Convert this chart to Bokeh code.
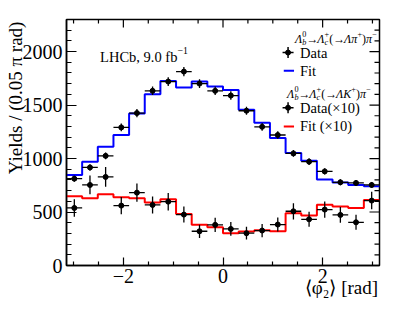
import numpy as np
from bokeh.plotting import figure
from bokeh.models import Label, FixedTicker, SingleIntervalTicker, Range1d
from bokeh.embed import file_html
from bokeh.resources import INLINE

# ---------------- data ----------------
n_bins = 20
phi_edges = list(np.linspace(-np.pi, np.pi, n_bins + 1))
phi_centers = [0.5 * (a + b) for a, b in zip(phi_edges[:-1], phi_edges[1:])]
phi_halfwidth = 0.5 * (phi_edges[1] - phi_edges[0])

pi_fit = [846, 971, 1111, 1220, 1421, 1602, 1725, 1664, 1720, 1673,
          1640, 1456, 1335, 1192, 1052, 980, 803, 775, 753, 740]
pi_data = [812, 917, 1025, 1291, 1425, 1633, 1720, 1813, 1701, 1633,
           1589, 1447, 1297, 1220, 1048, 971, 880, 778, 772, 753]
pi_err = [28, 30, 32, 36, 38, 40, 41, 43, 41, 40,
          40, 38, 36, 35, 32, 31, 30, 28, 28, 27]

k_fit = [647, 628, 665, 637, 628, 588, 619, 482, 380, 358,
         302, 317, 330, 320, 488, 467, 569, 551, 538, 613]
k_data = [538, 753, 828, 560, 681, 566, 597, 476, 320, 380,
          342, 302, 327, 383, 507, 432, 523, 473, 404, 607]
k_err = [82, 88, 92, 80, 85, 80, 82, 75, 62, 66,
         64, 60, 62, 66, 76, 70, 76, 74, 70, 82]

x_ticks = [-2, 0, 2]
x_tick_labels = {-2: "\u22122", 0: "0", 2: "2"}
x_minor = [-3, -2.5, -1.5, -1, -0.5, 0.5, 1, 1.5, 2.5, 3]
y_major = [0, 500, 1000, 1500, 2000]
y_minor = [v for v in range(100, 2301, 100) if v % 500 != 0]

x_title = "\u27e8\u03c6\u2082\u27e9 [rad]"
y_title = "Yields / (0.05 \u03c0 rad)"

FONT = "Liberation Serif"
BLUE = "#0000ff"
RED = "#ff0000"
W, H = 383, 300
BL, BR, BT, BB = 66, 4, 19, 35
X0, X1, Y0, Y1 = -np.pi, np.pi, 0, 2300
px_x = (W - BL - BR) / (X1 - X0)      # pixels per rad
px_y = (H - BT - BB) / (Y1 - Y0)      # pixels per yield unit
NBSP = "\u00a0"

p = figure(width=W, height=H, x_range=Range1d(X0, X1), y_range=Range1d(Y0, Y1),
           output_backend="svg", toolbar_location=None,
           min_border_left=BL, min_border_right=BR, min_border_top=BT, min_border_bottom=BB)
p.xgrid.visible = False
p.ygrid.visible = False
p.outline_line_color = "black"
p.outline_line_width = 1.5
p.background_fill_color = "white"
p.border_fill_color = "white"


def try_set(obj, name, vals):
    for v in vals:
        try:
            setattr(obj, name, v)
            return True
        except Exception:
            pass
    return False


xax = p.xaxis[0]
yax = p.yaxis[0]
xax.ticker = FixedTicker(ticks=x_ticks, minor_ticks=x_minor)
yax.ticker = SingleIntervalTicker(interval=500, num_minor_ticks=5)
xax.major_tick_in, xax.major_tick_out, xax.minor_tick_in, xax.minor_tick_out = 8, 0, 4, 0
yax.major_tick_in, yax.major_tick_out, yax.minor_tick_in, yax.minor_tick_out = 10, 0, 5, 0
for ax in (xax, yax):
    ax.axis_line_width = 1.5
    ax.major_tick_line_width = 1.2
    ax.minor_tick_line_width = 1.2
    ax.major_label_text_font = FONT
    ax.major_label_text_font_size = "20px"
    ax.major_label_text_color = "black"
    ax.axis_label_text_font = FONT
    ax.axis_label_text_font_style = "normal"
    ax.axis_label_text_color = "black"
    try_set(ax, "axis_label_align", ["end", "right"])
xax.major_label_overrides = x_tick_labels
xax.major_label_standoff = 3
yax.major_label_standoff = 4
# the axis label is centred on the end of the axis: pad it with no-break spaces
# so that the visible words end at the frame corner (right / top)
xax.axis_label = x_title + NBSP * 16
xax.axis_label_text_font_size = "19px"
xax.axis_label_standoff = -9
yax.axis_label = y_title + NBSP * 33
yax.axis_label_text_font_size = "19px"
yax.axis_label_standoff = -6

# mirrored ticks on the top and right edges of the frame
for tks, ln in ((x_ticks, 8), (x_minor, 4)):
    p.segment(x0=tks, x1=tks, y0=[Y1 - ln / px_y] * len(tks), y1=[Y1] * len(tks),
              line_color="black", line_width=1.2)
for tks, ln in ((y_major, 10), (y_minor, 5)):
    p.segment(x0=[X1 - ln / px_x] * len(tks), x1=[X1] * len(tks), y0=tks, y1=tks,
              line_color="black", line_width=1.2)

# ---------------- fit curves ----------------
p.step(x=phi_edges, y=pi_fit + [pi_fit[-1]], mode="after", line_color=BLUE, line_width=2)
p.step(x=phi_edges, y=k_fit + [k_fit[-1]], mode="after", line_color=RED, line_width=2)

# ---------------- data points with error bars ----------------
for vals, errs in ((pi_data, pi_err), (k_data, k_err)):
    x0 = [c - phi_halfwidth for c in phi_centers]
    x1 = [c + phi_halfwidth for c in phi_centers]
    p.segment(x0=x0, y0=vals, x1=x1, y1=vals, line_color="black", line_width=1.3)
    lo = [v - e for v, e in zip(vals, errs)]
    hi = [v + e for v, e in zip(vals, errs)]
    p.segment(x0=phi_centers, y0=lo, x1=phi_centers, y1=hi, line_color="black", line_width=1.3)
    p.scatter(x=phi_centers, y=vals, size=5, marker="circle", fill_color="black", line_color="black")

# ---------------- rich text helper ----------------
W_R = {'L': .611, 'H': .722, 'C': .667, 'b': .5, ',': .25, ' ': .25, '9': .5, '.': .25, '0': .5,
       'f': .333, '\u2212': .564, '1': .5, '(': .333, ')': .333, '+': .564, '\u2192': .9,
       '[': .333, ']': .333, 'r': .333, 'a': .444, 'd': .5, '2': .5}
W_I = {'\u039b': .61, '\u03c0': .52, 'K': .667, 'b': .5, 'c': .444}


def twidth(text, ital):
    tab = W_I if ital else W_R
    return sum(tab.get(ch, W_R.get(ch, .5)) for ch in text)


def rich(x, y, segs, size):
    off = 0.0
    pend = 0.0
    for text, ital, role in segs:
        fs = size if role == "n" else size * 0.68
        if role == "n":
            dy = 0
        elif role in ("sub", "sub0"):
            dy = -0.28 * size
        else:
            dy = 0.42 * size
        p.add_layout(Label(x=x, y=y, x_offset=off, y_offset=dy, text=text,
                           text_font=FONT, text_font_style="italic" if ital else "normal",
                           text_font_size=f"{fs:.1f}px", text_baseline="alphabetic",
                           text_align="left", text_color="black"))
        w = twidth(text, ital) * fs
        if role == "sub0":
            pend = w
        else:
            off += max(w, pend)
            pend = 0


# LHCb label
rich(-2.468, 1950, [("LHCb, 9.0 fb", 0, "n"), ("\u22121", 0, "sup")], 14.5)

# legend headers
HS = 12
rich(1.446, 2118, [("\u039b", 1, "n"), ("b", 1, "sub0"), ("0", 0, "sup"), ("\u2192", 0, "n"),
                   ("\u039b", 1, "n"), ("c", 1, "sub0"), ("+", 0, "sup"), ("(\u2192", 0, "n"),
                   ("\u039b\u03c0", 1, "n"), ("+", 0, "sup"), (")", 0, "n"),
                   ("\u03c0", 1, "n"), ("\u2212", 0, "sup")], HS)
rich(1.286, 1605, [("\u039b", 1, "n"), ("b", 1, "sub0"), ("0", 0, "sup"), ("\u2192", 0, "n"),
                   ("\u039b", 1, "n"), ("c", 1, "sub0"), ("+", 0, "sup"), ("(\u2192", 0, "n"),
                   ("\u039bK", 1, "n"), ("+", 0, "sup"), (")", 0, "n"),
                   ("\u03c0", 1, "n"), ("\u2212", 0, "sup")], HS)

# legend keys
for ky in (1991, 1475):
    p.scatter(x=[1.306], y=[ky], marker="cross", size=11, line_color="black", line_width=1.5)
    p.scatter(x=[1.306], y=[ky], marker="circle", size=5, fill_color="black", line_color="black")
p.line(x=[1.22, 1.426], y=[1820, 1820], line_color=BLUE, line_width=2)
p.line(x=[1.22, 1.426], y=[1300, 1300], line_color=RED, line_width=2)
for txt, ty in (("Data", 1991), ("Fit", 1820), ("Data(\u00d710)", 1475), ("Fit (\u00d710)", 1300)):
    p.add_layout(Label(x=1.546, y=ty, text=txt, text_font=FONT, text_font_size="14.5px",
                       text_baseline="middle", text_align="left", text_color="black"))

open("out.html", "w").write(file_html(p, INLINE))
